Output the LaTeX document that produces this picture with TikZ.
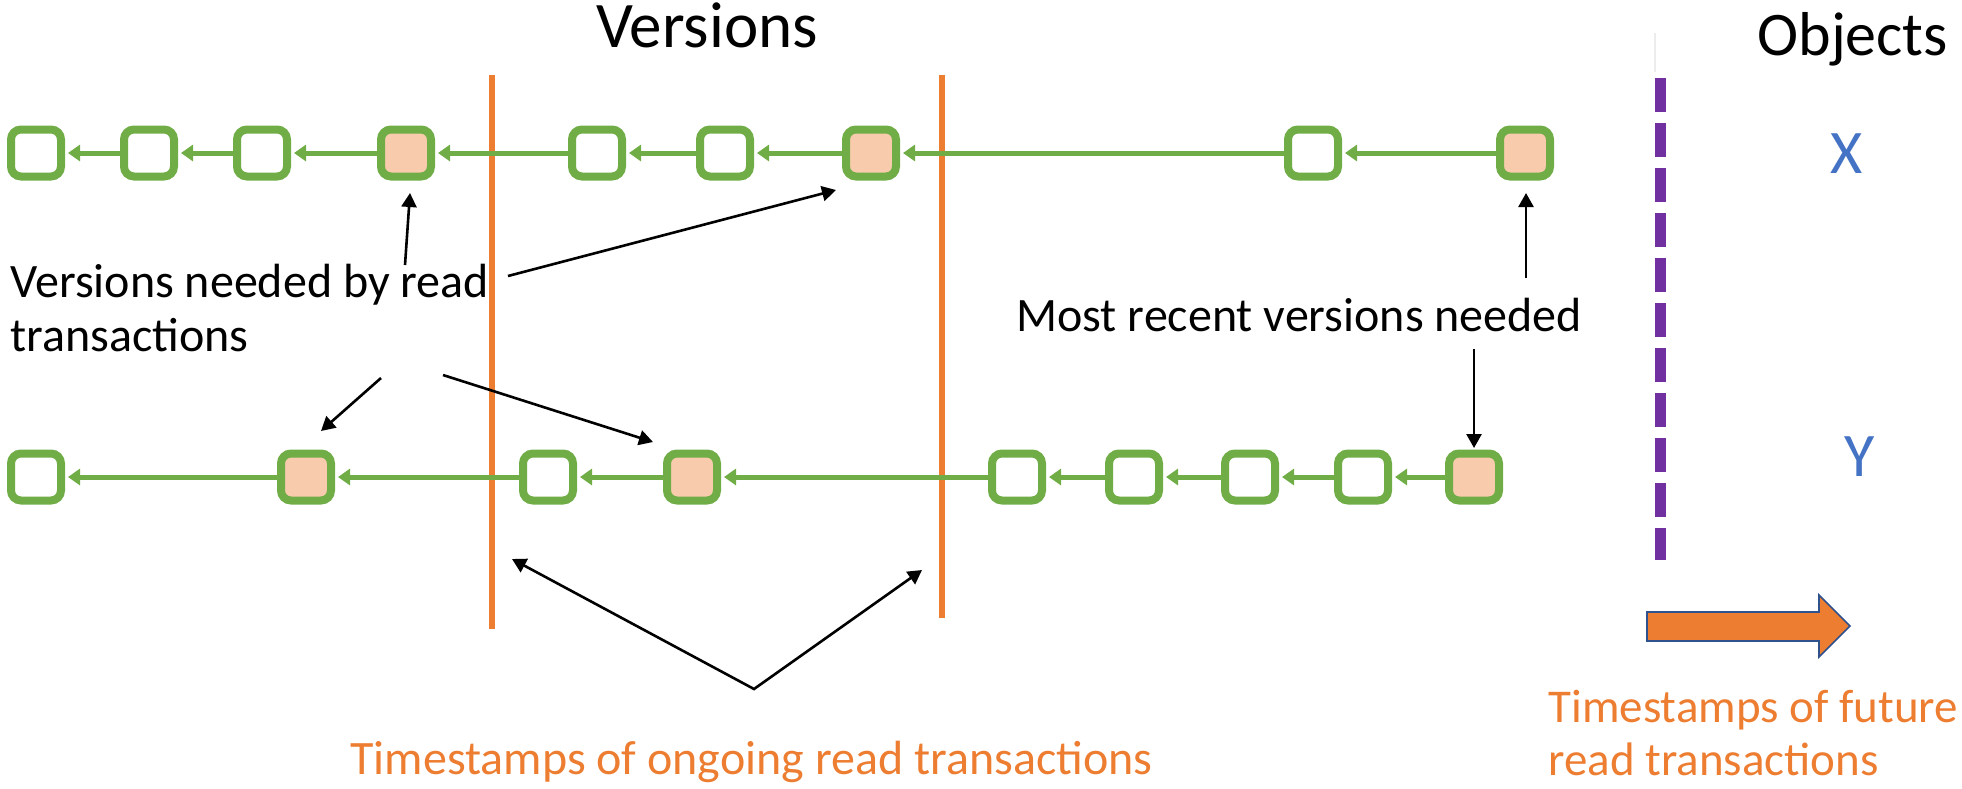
\documentclass[tikz,border=0pt]{standalone}
\usepackage{fontspec}
\setmainfont{Carlito}
\usetikzlibrary{arrows.meta,calc}
\definecolor{vgreen}{HTML}{70AD47}
\definecolor{vpink}{HTML}{F8CBAD}
\definecolor{vorange}{HTML}{ED7D31}
\definecolor{vpurple}{HTML}{7030A0}
\definecolor{vblue}{HTML}{4472C4}
\definecolor{arrowblue}{HTML}{2F528F}
\begin{document}
\begin{tikzpicture}[x=0.5pt,y=-0.5pt,
  ver/.style={draw=vgreen, line width=4pt, rounded corners=5pt, fill=white,
              minimum width=25pt, minimum height=23.5pt, inner sep=0pt},
  need/.style={ver, fill=vpink},
  link/.style={draw=vgreen, line width=2.5pt, -{Triangle[length=6pt,width=8pt]}, shorten >=1.5pt},
  note/.style={draw=black, line width=1.3pt, -{Triangle[length=7pt,width=7.5pt]}},
  lbl/.style={font=\fontsize{24pt}{28pt}\selectfont, inner sep=0pt, anchor=base west},
  olbl/.style={lbl, text=vorange},
  title/.style={font=\fontsize{31pt}{36pt}\selectfont, inner sep=0pt},
  obj/.style={font=\fontsize{31pt}{36pt}\selectfont, inner sep=0pt, text=vblue},
  ts/.style={draw=vorange, line width=3pt}
]
\useasboundingbox (0,0) rectangle (1962,788);

% timestamps of the ongoing read transactions
\draw[ts] (492,75) -- (492,629);
\draw[ts] (942,75) -- (942,618);

% timestamp boundary of future read transactions
\draw[gray!15, line width=0.6pt] (1655,33) -- (1655,72);
\draw[vpurple, line width=5.5pt, dash pattern=on 16.75pt off 5.75pt] (1660,78) -- (1660,560);

% version chain of object X
\node[ver]  (t1) at (36,153)   {};
\node[ver]  (t2) at (149,153)  {};
\node[ver]  (t3) at (262,153)  {};
\node[need] (t4) at (406,153)  {};
\node[ver]  (t5) at (597,153)  {};
\node[ver]  (t6) at (725,153)  {};
\node[need] (t7) at (871,153)  {};
\node[ver]  (t8) at (1313,153) {};
\node[need] (t9) at (1525,153) {};
\foreach \a/\b in {t2/t1,t3/t2,t4/t3,t5/t4,t6/t5,t7/t6,t8/t7,t9/t8}
  \draw[link] (\a.west) -- (\b.east);

% version chain of object Y
\node[ver]  (b1) at (36,477)   {};
\node[need] (b2) at (306,477)  {};
\node[ver]  (b3) at (548,477)  {};
\node[need] (b4) at (692,477)  {};
\node[ver]  (b5) at (1017,477) {};
\node[ver]  (b6) at (1134,477) {};
\node[ver]  (b7) at (1250,477) {};
\node[ver]  (b8) at (1363,477) {};
\node[need] (b9) at (1474,477) {};
\foreach \a/\b in {b2/b1,b3/b2,b4/b3,b5/b4,b6/b5,b7/b6,b8/b7,b9/b8}
  \draw[link] (\a.west) -- (\b.east);

% headings and object names
\node[title, anchor=base, font=\fontsize{32.5pt}{38pt}\selectfont] (hver) at (707,47) {Versions};
\node[title, anchor=base west] (hobj) at (1757,55) {Objects};
\node[obj] (ox) at (1847,154) {X};
\node[obj] (oy) at (1860,457) {Y};

% labels
\node[lbl] (needA) at (10,297) {Versions needed by read};
\node[lbl] (needB) at (10,351) {transactions};
\node[lbl] (recent) at (1016,331) {Most recent versions needed};
\node[olbl] (ongo) at (350,774) {Timestamps of ongoing read transactions};
\node[olbl, font=\fontsize{23.5pt}{28pt}\selectfont] (futA) at (1548,722) {Timestamps of future};
\node[olbl, font=\fontsize{23.5pt}{28pt}\selectfont] (futB) at (1548,775) {read transactions};

% annotation arrows
\coordinate (s1) at (405,265);
\coordinate (e1) at (410,193);
\coordinate (s2) at (508,276);
\coordinate (e2) at (836,190);
\coordinate (s3) at (381,378);
\coordinate (e3) at (321,431);
\coordinate (s4) at (443,375);
\coordinate (e4) at (653,442);
\coordinate (s5) at (1526,278);
\coordinate (e5) at (1526,193);
\coordinate (s6) at (1474,349);
\coordinate (e6) at (1474,448);
\draw[note] (s1) -- (e1);
\draw[note] (s2) -- (e2);
\draw[note] (s3) -- (e3);
\draw[note] (s4) -- (e4);
\draw[note] (s5) -- (e5);
\draw[note] (s6) -- (e6);

\coordinate (tsv) at (754,689);
\coordinate (tsl) at (512,559);
\coordinate (tsr) at (922,570);
\draw[note, {Triangle[length=7pt,width=7.5pt]}-{Triangle[length=7pt,width=7.5pt]}, line join=miter]
  (tsl) -- (tsv) -- (tsr);

% direction of future timestamps
\filldraw[fill=vorange, draw=arrowblue, line width=0.8pt]
  (1647,612) -- (1819,612) -- (1819,595) -- (1850,626) -- (1819,657)
  -- (1819,641) -- (1647,641) -- cycle;
\end{tikzpicture}
\end{document}
